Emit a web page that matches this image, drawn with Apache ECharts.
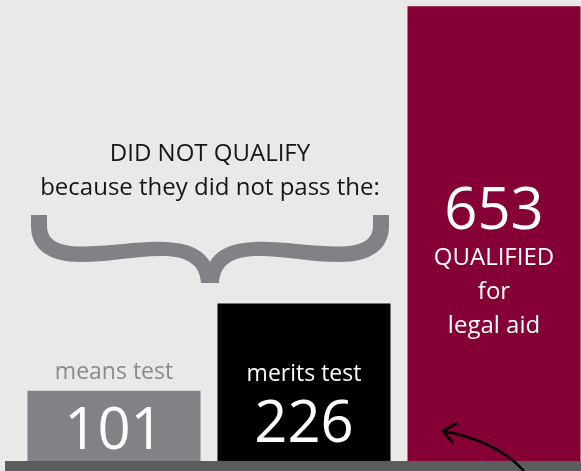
<!DOCTYPE html>
<html>
<head>
<meta charset="utf-8">
<script src="https://cdn.jsdelivr.net/npm/echarts@6/dist/echarts.min.js"></script>
<style>
html,body{margin:0;padding:0;background:#e9e9e9;}
#chart{width:581px;height:471px;}
</style>
</head>
<body>
<div id="chart"></div>
<script>
// ---- data ----
const categories = ['means test', 'merits test', 'QUALIFIED for legal aid'];
const values = [101, 226, 653];
const heading = ['DID NOT QUALIFY', 'because they did not pass the:'];
const qualifiedLines = ['QUALIFIED', 'for', 'legal aid'];

// ---- styling ----
const FONT = 'Open Sans';
const barColors = ['#808285', '#000000', '#850035'];

const labelFor = [
  {
    position: ['50%', 24],
    formatter: () => '{t|' + categories[0] + '}\n{n|' + values[0] + '}',
    rich: {
      t: { fontSize: 23, lineHeight: 36, color: '#898b8e', fontFamily: FONT, align: 'center' },
      n: { fontSize: 58, lineHeight: 84, color: '#ffffff', fontFamily: FONT, align: 'center' }
    }
  },
  {
    position: ['50%', 107],
    formatter: () => '{t|' + categories[1] + '}\n{n|' + values[1] + '}',
    rich: {
      t: { fontSize: 23, lineHeight: 30, color: '#ffffff', fontFamily: FONT, align: 'center' },
      n: { fontSize: 58, lineHeight: 72, color: '#ffffff', fontFamily: FONT, align: 'center' }
    }
  },
  {
    position: ['50%', 257],
    formatter: () => '{n|' + values[2] + '}\n' + qualifiedLines.map(s => '{t|' + s + '}').join('\n'),
    rich: {
      t: { fontSize: 24, lineHeight: 34, color: '#ffffff', fontFamily: FONT, align: 'center' },
      n: { fontSize: 58, lineHeight: 58, color: '#ffffff', fontFamily: FONT, align: 'center' }
    }
  }
];

const seriesData = values.map((v, i) => ({
  value: v,
  itemStyle: { color: barColors[i] },
  label: Object.assign({ show: true, align: 'center', verticalAlign: 'middle' }, labelFor[i])
}));

const bracePath =
  'M31 215 L47 215 L47 226 C47 242 62 247 85 246.5 C115 246 140 241 165 242 C190 243 203 250 210 262 ' +
  'C217 250 230 243 255 242 C280 241 305 246 335 246.5 C358 247 373 242 373 226 L373 215 L389 215 L389 226 ' +
  'C389 250 370 262 340 262 C310 262 280 255 255 256 C232 257 220 265 219 283 L201 283 ' +
  'C200 265 188 257 165 256 C140 255 110 262 80 262 C50 262 31 250 31 226 Z';

echarts.graphic.registerShape('braceShape', echarts.graphic.extendPath(bracePath));

const chart = echarts.init(document.getElementById('chart'), null, { renderer: 'canvas' });

chart.setOption({
  backgroundColor: '#e9e9e9',
  animation: false,
  grid: { left: 19, top: 0, width: 570, bottom: 10, outerBoundsMode: 'none', containLabel: false },
  xAxis: { type: 'category', data: categories, show: false },
  yAxis: { type: 'value', min: 0, max: 662, show: false },
  series: [{
    type: 'bar',
    data: seriesData,
    barWidth: 173,
    z: 2
  }],
  graphic: [
    {
      type: 'rect',
      shape: { x: 5, y: 461, width: 576, height: 10 },
      style: { fill: '#5b5c5e' },
      z: 10
    },
    {
      type: 'braceShape',
      style: { fill: '#808285' },
      z: 10
    },
    {
      type: 'text',
      x: 210, y: 154,
      style: {
        text: heading[0], fontSize: 24, fontFamily: FONT, fill: '#161616',
        align: 'center', verticalAlign: 'middle'
      },
      z: 10
    },
    {
      type: 'text',
      x: 210, y: 188,
      style: {
        text: heading[1], fontSize: 24, fontFamily: FONT, fill: '#161616',
        align: 'center', verticalAlign: 'middle'
      },
      z: 10
    },
    {
      type: 'bezierCurve',
      shape: { x1: 443, y1: 431, cpx1: 497, cpy1: 441, x2: 524, y2: 471 },
      style: { fill: null, stroke: '#000000', lineWidth: 2.6 },
      z: 11
    },
    {
      type: 'polyline',
      shape: { points: [[457, 423], [443, 431], [453, 443]] },
      style: { fill: null, stroke: '#000000', lineWidth: 2.6 },
      z: 11
    }
  ]
});
</script>
</body>
</html>
